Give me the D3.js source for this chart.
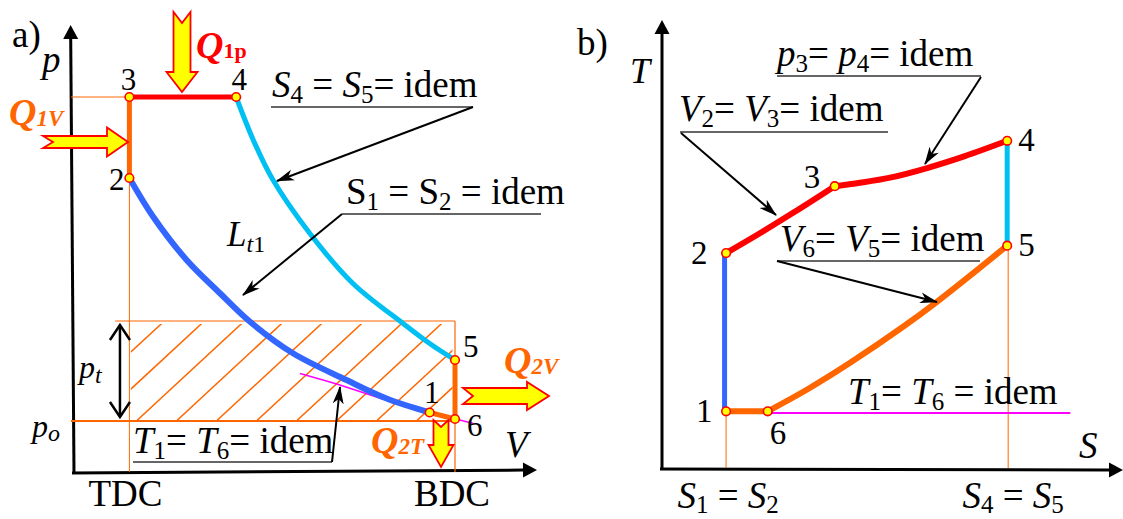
<!DOCTYPE html>
<html>
<head>
<meta charset="utf-8">
<script src="https://cdn.jsdelivr.net/npm/d3@7"></script>
<style>
  html, body { margin: 0; padding: 0; background: #fff; }
  svg { display: block; }
  text { font-family: "Liberation Serif", "Times New Roman", serif; white-space: pre; }
</style>
</head>
<body>
<svg id="chart" width="1123" height="519"></svg>
<script>
// ---------- panel a: p–V diagram (V in units of Vc, p in units of p0) ----------
const pvIds = ['1', '2', '3', '4', '5', '6'];
const pvV   = [6.08, 0.99, 0.99, 2.80, 6.51, 6.51];
const pvP   = [1.19, 5.88, 7.50, 7.50, 2.24, 1.06];

// 2 -> 1 compression (S1 = S2), 4 -> 5 expansion (S4 = S5), isotherm T1 = T6
const compression = [[0.99, 5.88], [1.39, 5.11], [1.96, 4.24], [2.53, 3.57], [3.03, 3.01],
                     [3.77, 2.37], [4.67, 1.84], [5.35, 1.47], [6.08, 1.19]];
const expansion   = [[2.80, 7.50], [3.09, 6.64], [3.41, 5.87], [4.05, 4.77], [4.78, 3.77],
                     [5.63, 2.97], [6.08, 2.57], [6.51, 2.24]];
const isothermA   = [[3.88, 1.97], [4.56, 1.74], [5.35, 1.44], [6.82, 0.97]];

const V_TDC = 0.99, V_BDC = 6.51;
const P0 = 1.02, P_TOP = 3.02, V_PT = 0.83, V_RECT_LEFT = 0.75;

// ---------- panel b: T–S diagram ----------
const tsIds = ['1', '2', '3', '4', '5', '6'];
const tsS   = [1.00, 1.00, 2.67, 5.32, 5.32, 1.64];
const tsT   = [1.00, 3.79, 4.97, 5.77, 3.92, 1.00];

const heatV  = [[1.00, 3.79], [1.52, 4.14], [2.03, 4.50], [2.67, 4.97]];                       // 2 -> 3
const heatP  = [[2.67, 4.97], [3.06, 5.03], [3.52, 5.12], [4.09, 5.29], [4.67, 5.50], [5.32, 5.77]]; // 3 -> 4
const coolV  = [[5.32, 3.92], [4.24, 2.93], [3.72, 2.49], [2.90, 1.85], [2.24, 1.38], [1.64, 1.00]]; // 5 -> 6
const isothermB = [[1.64, 0.97], [6.29, 0.97]];

const ORANGE = '#ff6600', RED = '#ff0000', BLUE = '#3366ff', CYAN = '#00bff2',
      MAGENTA = '#ff00ff', YELLOW = '#ffff00';

const svg = d3.select('#chart');

// scales
const xA = d3.scaleLinear().domain([0, 7.9]).range([71, 537]);
const yA = d3.scaleLinear().domain([0, 8.94]).range([472, 25]);
const xB = d3.scaleLinear().domain([0, 7.1]).range([661, 1123]);
const yB = d3.scaleLinear().domain([0, 7.9]).range([468, 20]);

const defs = svg.append('defs');
defs.append('marker')
  .attr('id', 'tip')
  .attr('viewBox', '0 -6 18 12')
  .attr('refX', 17).attr('refY', 0)
  .attr('markerWidth', 18).attr('markerHeight', 12)
  .attr('markerUnits', 'userSpaceOnUse')
  .attr('orient', 'auto')
  .append('path')
  .attr('d', 'M0,-5.5 L18,0 L0,5.5 L5,0 Z')
  .attr('fill', '#000');

// helper: text with subscripts; kinds: r roman, i italic, sr/si subscript
function rich(x, y, parts, size, opt = {}) {
  const t = svg.append('text')
    .attr('x', x).attr('y', y)
    .attr('font-size', size)
    .attr('fill', opt.fill || '#000')
    .attr('font-weight', opt.weight || 'normal')
    .attr('text-anchor', opt.anchor || 'start');
  const subDy = opt.subDy === undefined ? 6 : opt.subDy;
  let shift = 0;
  parts.forEach(([str, kind]) => {
    const isSub = kind[0] === 's';
    const target = isSub ? subDy : 0;
    t.append('tspan')
      .attr('dy', target - shift)
      .attr('font-size', isSub ? (opt.subSize || 25) : size)
      .attr('font-style', kind.endsWith('i') ? 'italic' : 'normal')
      .text(str);
    shift = target;
  });
  return t;
}

function seg(x1, y1, x2, y2, color, w) {
  return svg.append('line')
    .attr('x1', x1).attr('y1', y1).attr('x2', x2).attr('y2', y2)
    .attr('stroke', color).attr('stroke-width', w);
}

function pointer(x1, y1, x2, y2) {
  seg(x1, y1, x2, y2, '#000', 2).attr('marker-end', 'url(#tip)');
}

function underline(x1, x2, y) {
  seg(x1, y, x2, y, '#333', 1.5);
}

// yellow block arrow; tail at (x, y), pointing along angle (deg)
function blockArrow(x, y, angle, len, shaftW, headW, headL, notch) {
  const s = shaftW / 2, h = headW / 2, b = len - headL;
  const pts = [[0, -s], [b, -s], [b, -h], [len, 0], [b, h], [b, s], [0, s], [notch, 0]];
  svg.append('path')
    .attr('d', 'M' + pts.map(p => p.join(',')).join('L') + 'Z')
    .attr('transform', `translate(${x},${y}) rotate(${angle})`)
    .attr('fill', YELLOW)
    .attr('stroke', RED)
    .attr('stroke-width', 1.8)
    .attr('stroke-linejoin', 'miter');
}

function axisArrow(x1, y1, x2, y2) {
  // shaft plus filled head ending at (x2, y2)
  const a = Math.atan2(y2 - y1, x2 - x1);
  const L = 14, W = 7.5;
  const bx = x2 - L * Math.cos(a), by = y2 - L * Math.sin(a);
  seg(x1, y1, bx, by, '#000', 3);
  svg.append('path')
    .attr('d', `M${x2},${y2}L${bx - W * Math.sin(a)},${by + W * Math.cos(a)}L${bx + W * Math.sin(a)},${by - W * Math.cos(a)}Z`)
    .attr('fill', '#000');
}

const lineA = d3.line().x(d => xA(d[0])).y(d => yA(d[1])).curve(d3.curveCatmullRom.alpha(0.5));
const lineB = d3.line().x(d => xB(d[0])).y(d => yB(d[1])).curve(d3.curveCatmullRom.alpha(0.5));

function pathA(data, color, w) {
  svg.append('path').attr('d', lineA(data)).attr('fill', 'none')
    .attr('stroke', color).attr('stroke-width', w);
}
function pathB(data, color, w) {
  svg.append('path').attr('d', lineB(data)).attr('fill', 'none')
    .attr('stroke', color).attr('stroke-width', w);
}

function marker(x, y) {
  svg.append('circle').attr('cx', x).attr('cy', y).attr('r', 4.3)
    .attr('fill', YELLOW).attr('stroke', RED).attr('stroke-width', 1.6);
}

// =================== PANEL A ===================
const A = {};
pvIds.forEach((id, i) => { A[id] = [xA(pvV[i]), yA(pvP[i])]; });

// axes
axisArrow(74, 473, 70.6, 25);
axisArrow(72, 473, 537, 470);

// thin guides
seg(xA(0), A['3'][1], A['3'][0], A['3'][1], ORANGE, 1);
seg(xA(V_TDC), A['2'][1], xA(V_TDC), yA(0), ORANGE, 1);
seg(xA(V_BDC), yA(P_TOP), xA(V_BDC), yA(0), ORANGE, 1.2);
seg(xA(V_RECT_LEFT), yA(P_TOP), xA(V_BDC), yA(P_TOP), ORANGE, 1.2);
seg(xA(0), yA(P0), xA(V_BDC), yA(P0), ORANGE, 2);

// hatching of the mean-pressure rectangle
const rx0 = xA(V_TDC), rx1 = xA(V_BDC), ry0 = yA(P_TOP), ry1 = yA(P0);
defs.append('clipPath').attr('id', 'hatchClip')
  .append('rect')
  .attr('x', rx0 + 1.5).attr('y', ry0 + 3)
  .attr('width', rx1 - rx0 - 4).attr('height', ry1 - ry0 - 3);
const rise = ry1 - ry0, run = rise * 1.08;
svg.append('g').attr('clip-path', 'url(#hatchClip)')
  .selectAll('line')
  .data(d3.range(-3, 9))
  .join('line')
  .attr('x1', i => rx0 + 7 + 40 * i)
  .attr('y1', ry1)
  .attr('x2', i => rx0 + 7 + 40 * i + run)
  .attr('y2', ry0)
  .attr('stroke', ORANGE)
  .attr('stroke-width', 1.5);

// isotherm
pathA(isothermA, MAGENTA, 1.6);

// cycle
pathA(compression, BLUE, 6);
pathA(expansion, CYAN, 5);
seg(A['3'][0], A['3'][1], A['4'][0], A['4'][1], RED, 5);
seg(A['2'][0], A['2'][1], A['3'][0], A['3'][1], ORANGE, 5);
seg(A['5'][0], A['5'][1], A['6'][0], A['6'][1], ORANGE, 5);
seg(A['1'][0], A['1'][1], A['6'][0], A['6'][1], ORANGE, 5);
pvIds.forEach(id => marker(A[id][0], A[id][1]));

// p_t double arrow
const pt0 = ry0 + 4, pt1 = ry1 - 4, ptx = xA(V_PT);
seg(ptx, pt0, ptx, pt1, '#000', 2.5);
svg.append('path').attr('d', `M${ptx - 10},${pt0 + 15}L${ptx},${pt0}L${ptx + 10},${pt0 + 15}`)
  .attr('fill', 'none').attr('stroke', '#000').attr('stroke-width', 2.5);
svg.append('path').attr('d', `M${ptx - 10},${pt1 - 15}L${ptx},${pt1}L${ptx + 10},${pt1 - 15}`)
  .attr('fill', 'none').attr('stroke', '#000').attr('stroke-width', 2.5);

// heat arrows
blockArrow(182, 12, 90, 80, 17, 31, 20, 11);   // Q1p
blockArrow(43, 142, 0, 85, 12, 29, 21, 10);    // Q1V
blockArrow(463, 396, 0, 86, 16, 28, 22, 10);   // Q2V
blockArrow(441, 420, 90, 47, 15, 25, 22, 7);   // Q2T

// labels
rich(12, 47, [['a)', 'r']], 37);
rich(42, 72, [['p', 'i']], 37);
rich(505, 457, [['V', 'i']], 37);
rich(xA(V_TDC) - 4, 506, [['TDC', 'r']], 37, { anchor: 'middle' });
rich(xA(V_BDC) - 3, 506, [['BDC', 'r']], 37, { anchor: 'middle' });
rich(32, 437, [['p', 'i'], ['o', 'si']], 32, { subSize: 24, subDy: 4 });
rich(79, 378, [['p', 'i'], ['t', 'si']], 32, { subSize: 24, subDy: 5 });
rich(227, 246, [['L', 'i'], ['t', 'si'], ['1', 'sr']], 35, { subSize: 24, subDy: 6 });

rich(A['3'][0] - 1, 90, [['3', 'r']], 31, { anchor: 'middle' });
rich(A['4'][0] + 3, 90, [['4', 'r']], 31, { anchor: 'middle' });
rich(A['2'][0] - 5, 190, [['2', 'r']], 31, { anchor: 'end' });
rich(A['5'][0] + 8, 357, [['5', 'r']], 31);
rich(A['6'][0] + 12, 436, [['6', 'r']], 31);
rich(A['1'][0] + 2, 403, [['1', 'r']], 31, { anchor: 'middle' });

rich(196, 58, [['Q', 'i'], ['1p', 'sr']], 38, { fill: RED, weight: 'bold', subSize: 22, subDy: 0 });
rich(9, 125, [['Q', 'i'], ['1V', 'si']], 38, { fill: ORANGE, weight: 'bold', subSize: 23, subDy: 1 });
rich(504, 373, [['Q', 'i'], ['2V', 'si']], 38, { fill: ORANGE, weight: 'bold', subSize: 23, subDy: 1 });
rich(371, 453, [['Q', 'i'], ['2T', 'si']], 38, { fill: ORANGE, weight: 'bold', subSize: 23, subDy: 1 });

rich(272, 97, [['S', 'i'], ['4', 'sr'], [' = ', 'r'], ['S', 'i'], ['5', 'sr'], ['= idem', 'r']], 37);
underline(271, 473, 107);
pointer(473, 107, 277, 181);

rich(346, 204, [['S', 'r'], ['1', 'sr'], [' = ', 'r'], ['S', 'r'], ['2', 'sr'], [' = idem', 'r']], 37);
underline(342, 541, 214);
pointer(342, 214, 243, 295);

rich(133, 453, [['T', 'i'], ['1', 'sr'], ['= ', 'r'], ['T', 'i'], ['6', 'sr'], ['= idem', 'r']], 37);
underline(133, 332, 462);
pointer(332, 462, 340, 387);

// =================== PANEL B ===================
const B = {};
tsIds.forEach((id, i) => { B[id] = [xB(tsS[i]), yB(tsT[i])]; });

axisArrow(662, 469, 662, 20);
axisArrow(660, 469, 1123, 470);

seg(B['1'][0], B['1'][1], B['1'][0], yB(0), ORANGE, 1);
seg(B['5'][0] + 1, B['5'][1], B['5'][0] + 1, yB(0), ORANGE, 1);

pathB(isothermB, MAGENTA, 2);
seg(B['1'][0], B['1'][1], B['6'][0], B['6'][1], ORANGE, 6);
pathB(coolV, ORANGE, 6);
svg.append('line')
  .attr('x1', B['1'][0] - 1.5).attr('y1', B['1'][1]).attr('x2', B['2'][0] - 1.5).attr('y2', B['2'][1])
  .attr('stroke', BLUE).attr('stroke-width', 5);
seg(B['4'][0], B['4'][1], B['5'][0], B['5'][1], CYAN, 5);
pathB(heatV, RED, 6);
pathB(heatP, RED, 6);
tsIds.forEach(id => marker(B[id][0], B[id][1]));

rich(577, 55, [['b)', 'r']], 37);
rich(630, 83, [['T', 'i']], 36);
rich(1079, 458, [['S', 'i']], 37);

rich(B['1'][0] - 30, 422, [['1', 'r']], 33);
rich(B['2'][0] - 35, 264, [['2', 'r']], 33);
rich(B['3'][0] - 31, 188, [['3', 'r']], 33);
rich(B['4'][0] + 11, 151, [['4', 'r']], 33);
rich(B['5'][0] + 11, 256, [['5', 'r']], 33);
rich(B['6'][0] + 2, 444, [['6', 'r']], 33);

rich(B['1'][0] + 2, 508, [['S', 'i'], ['1', 'sr'], [' = ', 'r'], ['S', 'i'], ['2', 'sr']], 37, { anchor: 'middle', subDy: 5 });
rich(B['5'][0] + 6, 508, [['S', 'i'], ['4', 'sr'], [' = ', 'r'], ['S', 'i'], ['5', 'sr']], 37, { anchor: 'middle', subDy: 5 });

rich(777, 66, [['p', 'i'], ['3', 'sr'], ['= ', 'r'], ['p', 'i'], ['4', 'sr'], ['= idem', 'r']], 37);
underline(777, 981, 76);
pointer(981, 77, 925, 164);

rich(679, 121, [['V', 'i'], ['2', 'sr'], ['= ', 'r'], ['V', 'i'], ['3', 'sr'], ['= idem', 'r']], 37);
underline(680, 888, 132);
pointer(681, 133, 776, 215);

rich(780, 251, [['V', 'i'], ['6', 'sr'], ['= ', 'r'], ['V', 'i'], ['5', 'sr'], ['= idem', 'r']], 37);
underline(777, 980, 261);
pointer(777, 261, 937, 302);

rich(848, 404, [['T', 'i'], ['1', 'sr'], ['= ', 'r'], ['T', 'i'], ['6', 'sr'], [' = idem', 'r']], 37);
</script>
</body>
</html>
